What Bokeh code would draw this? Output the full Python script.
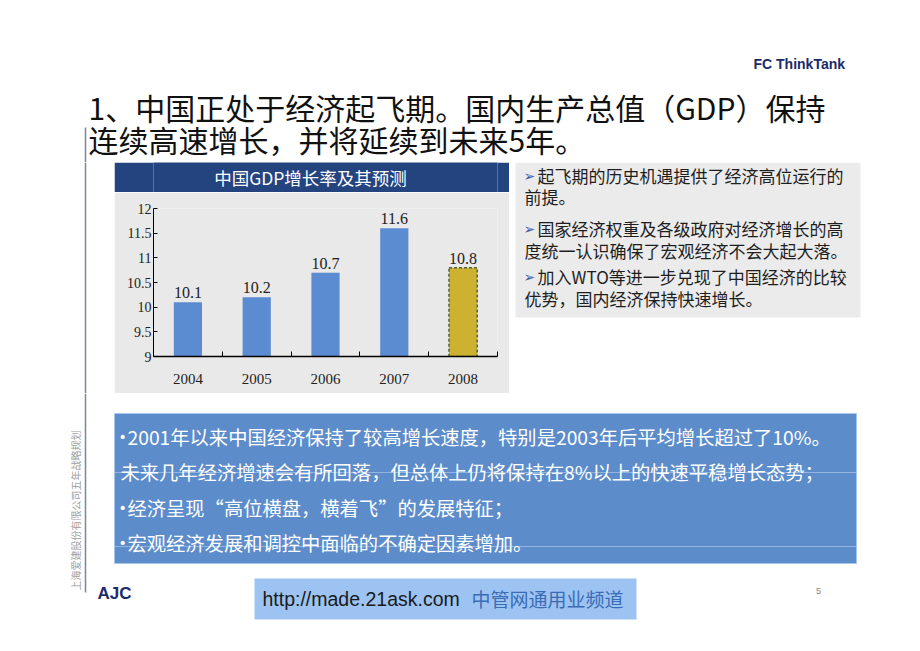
from bokeh.plotting import figure
from bokeh.layouts import column, row
from bokeh.models import Range1d, FixedTicker, ColumnDataSource
from bokeh.embed import file_html
from bokeh.resources import INLINE
from bokeh.core.properties import value

# ---------------- data ----------------
years = ["2004", "2005", "2006", "2007", "2008"]
gdp_growth = [10.1, 10.2, 10.7, 11.6, 10.8]
is_forecast = [False, False, False, False, True]
y_ticks = [9, 9.5, 10, 10.5, 11, 11.5, 12]
y_tick_labels = ["9", "9.5", "10", "10.5", "11", "11.5", "12"]
chart_title = "中国GDP增长率及其预测"

slide_title = ["1、中国正处于经济起飞期。国内生产总值（GDP）保持",
               "连续高速增长，并将延续到未来5年。"]
side_points = [("➢", "起飞期的历史机遇提供了经济高位运行的"),
               ("", "前提。"),
               ("➢", "国家经济权重及各级政府对经济增长的高"),
               ("", "度统一认识确保了宏观经济不会大起大落。"),
               ("➢", "加入WTO等进一步兑现了中国经济的比较"),
               ("", "优势，国内经济保持快速增长。")]
summary_points = [("•", "2001年以来中国经济保持了较高增长速度，特别是2003年后平均增长超过了10%。"),
                  ("", "未来几年经济增速会有所回落，但总体上仍将保持在8%以上的快速平稳增长态势；"),
                  ("•", "经济呈现“高位横盘，横着飞”的发展特征；"),
                  ("•", "宏观经济发展和调控中面临的不确定因素增加。")]
header_right = "FC ThinkTank"
footer_left = "AJC"
footer_url = "http://made.21ask.com"
footer_channel = "中管网通用业频道"
side_caption = "上海爱建股份有限公司五年战略规划"
page_no = "5"

CJK = value("Noto Sans CJK SC")
SANS = value("Liberation Sans")
SERIF = value("Liberation Serif")
LINE_COL = "#7A8796"
HDR_COL = "#24447F"


def page_fig(x0, x1, y0, y1):
    p = figure(width=x1 - x0, height=y1 - y0, x_range=Range1d(x0, x1),
               y_range=Range1d(y1, y0), output_backend="svg",
               toolbar_location=None, x_axis_type=None, y_axis_type=None,
               title=None, min_border_left=0, min_border_right=0,
               min_border_top=0, min_border_bottom=0)
    p.grid.visible = False
    p.outline_line_color = None
    p.background_fill_color = "white"
    p.border_fill_color = "white"
    return p


# ---------------- top band ----------------
top = page_fig(0, 920, 0, 162)
top.text(x=[753], y=[63], text=[header_right], text_font=SANS,
         text_font_style="bold", text_font_size="14px", text_color="#1B2A6B",
         text_baseline="middle", text_align="left")
top.text(x=[88, 88], y=[106, 138], text=slide_title, text_font=CJK,
         text_font_size="30px", text_color="#111111",
         text_baseline="middle", text_align="left")
top.segment(x0=[85], y0=[127], x1=[85], y1=[162], line_color=LINE_COL, line_width=1.5)

# ---------------- middle left ----------------
midleft = page_fig(0, 114, 162, 393)
midleft.segment(x0=[85], y0=[162], x1=[85], y1=[393], line_color=LINE_COL, line_width=1.5)

# ---------------- chart header (frame aligned with the chart frame) ----------------
hdr = figure(width=395, height=30, x_range=Range1d(153, 497), y_range=Range1d(192, 162),
             output_backend="svg", toolbar_location=None, x_axis_type=None,
             y_axis_type=None, title=None, min_border_left=39, min_border_right=12,
             min_border_top=0, min_border_bottom=0)
hdr.grid.visible = False
hdr.outline_line_color = None
hdr.background_fill_color = HDR_COL
hdr.border_fill_color = HDR_COL
hdr.text(x=[310], y=[177], text=[chart_title], text_font=CJK, text_font_size="17.5px",
         text_color="white", text_align="center", text_baseline="middle")

# ---------------- bar chart ----------------
n = len(years)
xs = [i + 1 for i in range(n)]
chart = figure(width=395, height=201, x_range=Range1d(0.5, n + 0.5),
               y_range=Range1d(y_ticks[0], y_ticks[-1]), output_backend="svg",
               toolbar_location=None, title=None,
               min_border_left=39, min_border_right=12,
               min_border_top=16, min_border_bottom=37)
chart.background_fill_color = "#E9E9E9"
chart.border_fill_color = "#E9E9E9"
chart.outline_line_color = None
chart.grid.visible = False

act = ColumnDataSource(dict(x=[x for x, f in zip(xs, is_forecast) if not f],
                            top=[v for v, f in zip(gdp_growth, is_forecast) if not f]))
fc = ColumnDataSource(dict(x=[x for x, f in zip(xs, is_forecast) if f],
                           top=[v for v, f in zip(gdp_growth, is_forecast) if f]))
chart.vbar(x="x", top="top", bottom=y_ticks[0], width=0.41, source=act,
           fill_color="#5B8BD0", line_color=None)
chart.vbar(x="x", top="top", bottom=y_ticks[0], width=0.41, source=fc,
           fill_color="#CDB232", line_color="#55603A", line_width=1.5, line_dash="3 2")
lab = ColumnDataSource(dict(x=xs, y=gdp_growth, t=[f"{v:.1f}" for v in gdp_growth]))
chart.text(x="x", y="y", text="t", source=lab, y_offset=-4, text_font=SERIF,
           text_font_size="16px", text_color="#222222", text_align="center",
           text_baseline="bottom")

xa = chart.xaxis[0]
xa.ticker = FixedTicker(ticks=xs, minor_ticks=[x - 0.5 for x in xs] + [xs[-1] + 0.5])
xa.major_label_overrides = {x: y for x, y in zip(xs, years)}
xa.major_tick_in = 0
xa.major_tick_out = 0
xa.minor_tick_in = 5
xa.minor_tick_out = 0
xa.minor_tick_line_color = "black"
xa.axis_line_color = "black"
xa.axis_line_width = 1.5
xa.major_label_standoff = 17
xa.major_label_text_font = "Liberation Serif"
xa.major_label_text_font_size = "15px"
xa.major_label_text_color = "#222222"

ya = chart.yaxis[0]
ya.ticker = FixedTicker(ticks=y_ticks)
ya.major_label_overrides = {t: s for t, s in zip(y_ticks, y_tick_labels)}
ya.major_tick_in = 4
ya.major_tick_out = 0
ya.minor_tick_in = 0
ya.minor_tick_out = 0
ya.axis_line_color = "black"
ya.major_label_standoff = 2
ya.major_label_text_font = "Liberation Serif"
ya.major_label_text_font_size = "14px"
ya.major_label_text_color = "#222222"

# ---------------- right text box ----------------
right = page_fig(509, 920, 162, 393)
right.quad(left=[515], right=[860], top=[162], bottom=[317], fill_color="#EBEBEB", line_color=None)
line_y = [175, 196, 228, 250, 276, 298]
bul = [(y, b) for (b, _), y in zip(side_points, line_y) if b]
right.text(x=[523] * len(bul), y=[y for y, _ in bul], text=[b for _, b in bul],
           text_font=value("DejaVu Sans"), text_font_size="14px", text_color="#3A5FA8",
           text_baseline="middle", text_align="left")
right.text(x=[537 if b else 524 for b, _ in side_points], y=line_y,
           text=[t for _, t in side_points], text_font=CJK, text_font_size="17px",
           text_color="#1E1E1E", text_baseline="middle", text_align="left")

# ---------------- bottom ----------------
bot = page_fig(0, 920, 393, 651)
bot.segment(x0=[85], y0=[393], x1=[85], y1=[592], line_color=LINE_COL, line_width=1.5)
bot.text(x=[75], y=[510], text=[side_caption], angle=1.5708, text_font=CJK,
         text_font_size="10px", text_color="#A0A0A0", text_align="center",
         text_baseline="middle")
bot.quad(left=[114], right=[856], top=[413], bottom=[563], fill_color="#5D8CCB",
         line_color="#A9C7EE", line_width=1)
bot.segment(x0=[114, 114], y0=[472, 546], x1=[856, 856], y1=[472, 546],
            line_color="#A9C4EA", line_width=1, line_alpha=0.7)
sum_y = [436, 471, 507, 542]
sb = [(y, b) for (b, _), y in zip(summary_points, sum_y) if b]
bot.text(x=[118] * len(sb), y=[y for y, _ in sb], text=[b for _, b in sb],
         text_font=value("DejaVu Sans"), text_font_size="14px", text_color="white",
         text_baseline="middle", text_align="left")
bot.text(x=[127 if b else 120 for b, _ in summary_points], y=sum_y,
         text=[t for _, t in summary_points], text_font=CJK,
         text_font_size="19.3px", text_color="white", text_baseline="middle",
         text_align="left")
bot.text(x=[97], y=[593], text=[footer_left], text_font=SANS, text_font_style="bold",
         text_font_size="17px", text_color="#1B2A6B", text_baseline="middle",
         text_align="left")
bot.quad(left=[254], right=[636], top=[578], bottom=[619], fill_color="#9DC3F2", line_color=None)
bot.text(x=[262], y=[598], text=[footer_url], text_font=SANS, text_font_size="19.5px",
         text_color="#1A1A1A", text_baseline="middle", text_align="left")
bot.text(x=[471], y=[598], text=[footer_channel], text_font=CJK, text_font_size="19px",
         text_color="#3A6CB5", text_baseline="middle", text_align="left")
bot.text(x=[818], y=[590], text=[page_no], text_font=SANS, text_font_size="9px",
         text_color="#888888", text_baseline="middle", text_align="center")

layout = column(top, row(midleft, column(hdr, chart, spacing=0), right, spacing=0),
                bot, spacing=0)

open("out.html", "w").write(file_html(layout, INLINE))
